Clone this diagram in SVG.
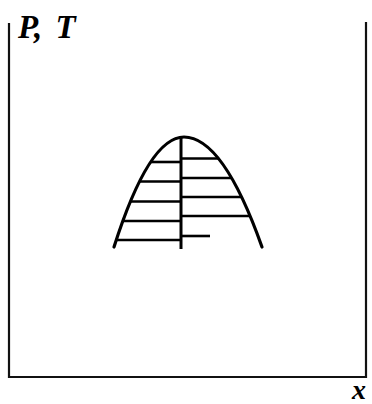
<svg xmlns="http://www.w3.org/2000/svg" width="372" height="404" viewBox="0 0 372 404">
<style>
.frame{fill:none;stroke:#111;stroke-width:2.2}
.curve{fill:none;stroke:#000;stroke-width:3.2;stroke-linecap:round}
.rung{stroke:#000;stroke-width:2.6}
.lbl{font-family:"Liberation Serif",serif;font-style:italic;font-weight:bold;fill:#000}
</style>
<rect width="372" height="404" fill="#fff"/>
<g id="axes">
<polyline class="frame" points="9,23 9,377 366,377 366,22"/>
</g>
<g id="labels">
<text class="lbl" x="18" y="38" font-size="33" word-spacing="5">P, T</text>
<text class="lbl" x="352" y="399" font-size="28">x</text>
</g>
<g id="profile">
<path class="curve" d="M114,247 Q149,137 184,137 Q223,137 262,247"/>
<line class="rung" x1="181" y1="136" x2="181" y2="249" style="stroke-width:3"/>
</g>
<g id="connectors">
<line class="rung" x1="150.5" y1="162" x2="181" y2="162"/>
<line class="rung" x1="139.3" y1="181.5" x2="181" y2="181.5"/>
<line class="rung" x1="130.1" y1="201.5" x2="181" y2="201.5"/>
<line class="rung" x1="122.5" y1="221" x2="181" y2="221"/>
<line class="rung" x1="115.9" y1="240" x2="181" y2="240"/>
<line class="rung" x1="181" y1="158.5" x2="218.6" y2="158.5"/>
<line class="rung" x1="181" y1="178" x2="231.8" y2="178"/>
<line class="rung" x1="181" y1="197" x2="241.9" y2="197"/>
<line class="rung" x1="181" y1="216" x2="250.4" y2="216"/>
<line class="rung" x1="181" y1="236" x2="210" y2="236"/>
</g>
</svg>
